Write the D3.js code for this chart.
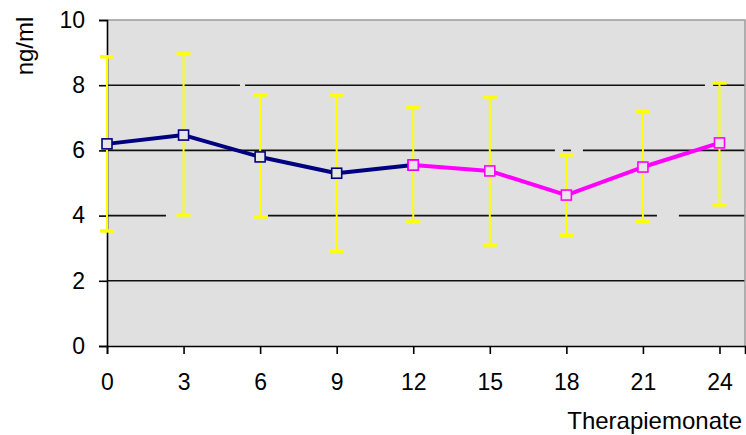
<!DOCTYPE html>
<html>
<head>
<meta charset="utf-8">
<script src="https://cdn.jsdelivr.net/npm/d3@7"></script>
<style>
  html, body { margin: 0; padding: 0; background: #fff; }
  svg text { font-family: "Liberation Sans", Arial, sans-serif; fill: #000; }
</style>
</head>
<body>
<svg id="chart" width="746" height="435"></svg>
<script>
// Therapy months and measured concentration (ng/ml)
const months = [0, 3, 6, 9, 12, 15, 18, 21, 24];
const meanValues = [6.2, 6.47, 5.8, 5.3, 5.55, 5.37, 4.63, 5.49, 6.23];
const upperValues = [8.87, 8.96, 7.7, 7.7, 7.33, 7.64, 5.86, 7.2, 8.07];
const lowerValues = [3.53, 4.02, 3.96, 2.91, 3.83, 3.1, 3.4, 3.83, 4.33];
// First phase (0-12) in navy, second phase (12-24) in magenta
const phaseOneMonths = [0, 3, 6, 9, 12];
const phaseTwoMonths = [12, 15, 18, 21, 24];
const yTicks = [0, 2, 4, 6, 8, 10];
const xTicks = [0, 3, 6, 9, 12, 15, 18, 21, 24];
const yTitle = "ng/ml";
const xTitle = "Therapiemonate";
// Interrupted stretches of the gridlines: [level, fromMonth, toMonth]
const gridBreaks = [
  [8, 5.21, 5.41], [8, 23.43, 23.75],
  [6, 17.55, 17.87], [6, 18.18, 18.65],
  [4, 2.31, 6.31], [4, 21.55, 22.41]
];

const svg = d3.select("#chart");
const plot = { left: 107, top: 20, right: 745, bottom: 346 };

const x = d3.scaleLinear().domain([0, 25]).range([plot.left, plot.right]);
const y = d3.scaleLinear().domain([0, 10]).range([plot.bottom, plot.top]);

// plot background
svg.append("rect")
  .attr("x", plot.left).attr("y", plot.top)
  .attr("width", plot.right - plot.left).attr("height", plot.bottom - plot.top)
  .attr("fill", "#e0e0e0");

// horizontal gridlines, split where interrupted
const gridSegments = [];
yTicks.filter(d => d > 0 && d < 10).forEach(level => {
  const breaks = gridBreaks.filter(b => b[0] === level).sort((a, b) => a[1] - b[1]);
  let start = 0;
  breaks.forEach(b => { gridSegments.push({ level, from: start, to: b[1] }); start = b[2]; });
  gridSegments.push({ level, from: start, to: 25 });
});
svg.append("g").selectAll("line")
  .data(gridSegments)
  .join("line")
  .attr("x1", d => x(d.from)).attr("x2", d => x(d.to))
  .attr("y1", d => y(d.level)).attr("y2", d => y(d.level))
  .attr("stroke", "#111").attr("stroke-width", 1.6);

// top & right frame
svg.append("path")
  .attr("d", `M${plot.left},${plot.top}H${plot.right}V${plot.bottom}`)
  .attr("fill", "none").attr("stroke", "#9a9a9a").attr("stroke-width", 1.5);

const fontFamily = "'Liberation Sans', Arial, sans-serif";

// y axis
const yAxis = svg.append("g")
  .attr("transform", `translate(${plot.left},0)`)
  .call(d3.axisLeft(y).tickValues(yTicks).tickSize(8).tickPadding(14).tickFormat(d3.format("d")));
yAxis.select(".domain").attr("stroke", "#000").attr("stroke-width", 1.6);
yAxis.selectAll(".tick line").attr("stroke", "#000").attr("stroke-width", 1.6);
yAxis.selectAll(".tick text").attr("font-size", 23).attr("fill", "#000")
  .style("font-family", fontFamily);

// x axis
const xAxis = svg.append("g")
  .attr("transform", `translate(0,${plot.bottom})`)
  .call(d3.axisBottom(x).tickValues(xTicks).tickSize(8).tickPadding(20).tickFormat(d3.format("d")));
xAxis.select(".domain").attr("stroke", "#000").attr("stroke-width", 1.6);
xAxis.selectAll(".tick line").attr("stroke", "#000").attr("stroke-width", 1.6);
xAxis.selectAll(".tick text").attr("font-size", 23).attr("fill", "#000")
  .style("font-family", fontFamily);

// axis titles
svg.append("text")
  .attr("transform", `translate(33,46) rotate(-90)`)
  .attr("text-anchor", "middle")
  .attr("font-size", 24)
  .text(yTitle);
svg.append("text")
  .attr("x", 742).attr("y", 429)
  .attr("text-anchor", "end")
  .attr("font-size", 24)
  .text(xTitle);

const points = months.map((m, i) => ({ m, mean: meanValues[i], hi: upperValues[i], lo: lowerValues[i] }));

// error bars
const err = svg.append("g").attr("stroke", "#ffff00");
err.selectAll("line.v").data(points).join("line")
  .attr("class", "v")
  .attr("x1", d => x(d.m)).attr("x2", d => x(d.m))
  .attr("y1", d => y(d.hi)).attr("y2", d => y(d.lo))
  .attr("stroke-width", 2);
err.selectAll("line.hi").data(points).join("line")
  .attr("class", "hi")
  .attr("x1", d => x(d.m) - 7).attr("x2", d => x(d.m) + 7)
  .attr("y1", d => y(d.hi)).attr("y2", d => y(d.hi))
  .attr("stroke-width", 3.5);
err.selectAll("line.lo").data(points).join("line")
  .attr("class", "lo")
  .attr("x1", d => x(d.m) - 7).attr("x2", d => x(d.m) + 7)
  .attr("y1", d => y(d.lo)).attr("y2", d => y(d.lo))
  .attr("stroke-width", 3.5);

const line = d3.line().x(d => x(d.m)).y(d => y(d.mean));
const phases = [
  { months: phaseOneMonths, color: "#000080" },
  { months: phaseTwoMonths, color: "#ff00ff" }
];

phases.forEach(p => {
  const pts = points.filter(d => p.months.includes(d.m));
  svg.append("path").datum(pts)
    .attr("d", line)
    .attr("fill", "none")
    .attr("stroke", p.color)
    .attr("stroke-width", 4)
    .attr("stroke-linejoin", "round");
});

// markers: later phase drawn over the shared month 12
phases.forEach(p => {
  const pts = points.filter(d => p.months.includes(d.m));
  svg.append("g").selectAll("rect").data(pts).join("rect")
    .attr("x", d => x(d.m) - 5).attr("y", d => y(d.mean) - 5)
    .attr("width", 10).attr("height", 10)
    .attr("fill", "#e6e6e6")
    .attr("stroke", p.color)
    .attr("stroke-width", 1.6);
});
</script>
</body>
</html>
